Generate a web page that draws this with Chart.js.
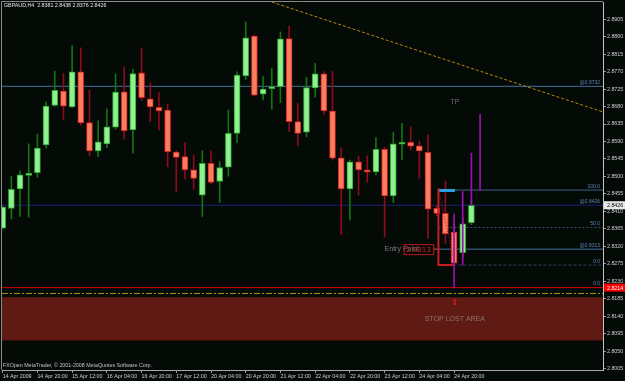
<!DOCTYPE html>
<html lang="en">
<head>
<meta charset="UTF-8">
<title>GBPAUD,H4</title>
<script src="https://cdn.jsdelivr.net/npm/chart.js"></script>
<style>
  html, body { margin: 0; padding: 0; background: #040b07; overflow: hidden; }
  canvas { display: block; }
</style>
</head>
<body>
<canvas id="chart" width="625" height="381"></canvas>
<script>
// H4 candles, oldest first (bar index = position in the arrays)
const opens  = [2.8367, 2.8418, 2.8468, 2.8503, 2.8510, 2.8581, 2.8683, 2.8720, 2.8679, 2.8769,
                2.8639, 2.8566, 2.8584, 2.8627, 2.8718, 2.8620, 2.8767, 2.8700, 2.8678, 2.8671,
                2.8563, 2.8551, 2.8517, 2.8452, 2.8534, 2.8487, 2.8524, 2.8611, 2.8759, 2.8861,
                2.8712, 2.8726, 2.8731, 2.8855, 2.8641, 2.8614, 2.8728, 2.8764, 2.8668, 2.8548,
                2.8468, 2.8538, 2.8517, 2.8512, 2.8570, 2.8450, 2.8583, 2.8588, 2.8579, 2.8562,
                2.8418, 2.8405, 2.8357, 2.8304, 2.8381];
const highs  = [2.8424, 2.8501, 2.8514, 2.8584, 2.8609, 2.8692, 2.8771, 2.8765, 2.8836, 2.8831,
                2.8722, 2.8643, 2.8674, 2.8764, 2.8782, 2.8776, 2.8830, 2.8741, 2.8717, 2.8686,
                2.8566, 2.8587, 2.8555, 2.8566, 2.8566, 2.8538, 2.8671, 2.8769, 2.8898, 2.8864,
                2.8757, 2.8778, 2.8872, 2.8887, 2.8688, 2.8755, 2.8791, 2.8770, 2.8771, 2.8574,
                2.8542, 2.8553, 2.8553, 2.8600, 2.8575, 2.8614, 2.8637, 2.8627, 2.8591, 2.8607,
                2.8424, 2.8488, 2.8378, 2.8395, 2.8438];
const lows   = [2.8365, 2.8391, 2.8397, 2.8395, 2.8498, 2.8573, 2.8681, 2.8647, 2.8678, 2.8632,
                2.8553, 2.8551, 2.8574, 2.8622, 2.8596, 2.8560, 2.8697, 2.8641, 2.8620, 2.8525,
                2.8461, 2.8493, 2.8467, 2.8397, 2.8481, 2.8433, 2.8501, 2.8587, 2.8750, 2.8707,
                2.8697, 2.8673, 2.8690, 2.8615, 2.8579, 2.8602, 2.8704, 2.8660, 2.8542, 2.8350,
                2.8388, 2.8452, 2.8485, 2.8504, 2.8345, 2.8433, 2.8544, 2.8568, 2.8495, 2.8341,
                2.8398, 2.8328, 2.8270, 2.8290, 2.8376];
const closes = [2.8421, 2.8467, 2.8504, 2.8508, 2.8573, 2.8681, 2.8722, 2.8681, 2.8769, 2.8638,
                2.8566, 2.8589, 2.8628, 2.8717, 2.8617, 2.8765, 2.8703, 2.8679, 2.8669, 2.8564,
                2.8549, 2.8517, 2.8495, 2.8534, 2.8485, 2.8523, 2.8611, 2.8761, 2.8857, 2.8709,
                2.8725, 2.8731, 2.8854, 2.8641, 2.8611, 2.8729, 2.8764, 2.8669, 2.8547, 2.8468,
                2.8538, 2.8517, 2.8511, 2.8570, 2.8450, 2.8584, 2.8587, 2.8578, 2.8566, 2.8416,
                2.8405, 2.8352, 2.8277, 2.8378, 2.8426];

// purple indicator sticks on the last bars
const stickBars  = [52, 53, 54, 55];
const stickLows  = [2.8213, 2.8272, 2.8425, 2.8465];
const stickHighs = [2.8403, 2.8461, 2.8560, 2.8660];

// horizontal levels with their right-hand captions
const levelNames  = ['@2.8732', '@2.8426', '100.0', '50.0', '@2.8313', '0.0', '0.0'];
const levelValues = [2.8732, 2.8426, 2.8465, 2.8369, 2.8313, 2.8272, 2.8214];
const levelFrom   = [-0.08, -0.08, 50.2, 50.2, 49.6, 50.2, -0.08];

const stopLine = 2.8199;
const stopAreaTop = 2.8189;
const stopAreaBottom = 2.8078;

// dashed trend line (bar, price)
const trendBars   = [31.0, 69.16];
const trendPrices = [2.8949, 2.8666];

// fib box drawn on bars 50..52
const boxBars   = [50.2, 50.2, 52.1];
const boxPrices = [2.8470, 2.8272, 2.8272];
const fibTop = 2.8464;

const xTickBars   = [0, 4, 8, 12, 16, 20, 24, 28, 32, 36, 40, 44, 48, 52];
const xTickLabels = ['14 Apr 2009', '14 Apr 20:00', '15 Apr 12:00', '16 Apr 04:00', '16 Apr 20:00',
                     '17 Apr 12:00', '20 Apr 04:00', '20 Apr 20:00', '21 Apr 12:00', '22 Apr 04:00',
                     '22 Apr 20:00', '23 Apr 12:00', '24 Apr 04:00', '24 Apr 20:00'];
const yTickLabels = ['2.8005', '2.8050', '2.8095', '2.8140', '2.8185', '2.8230', '2.8275', '2.8320',
                     '2.8365', '2.8410', '2.8455', '2.8500', '2.8545', '2.8590', '2.8635', '2.8680',
                     '2.8725', '2.8770', '2.8815', '2.8860', '2.8905'];

const X_MIN = -0.08, X_MAX = 69.16;
const Y_MIN = 2.8002, Y_MAX = 2.8949;
const FONT = 'Liberation Sans';

const bull = opens.map((o, i) => closes[i] >= o);
const bodyFill = bull.map(b => b ? '#8ff08f' : '#fb7d5e');
const bodyEdge = bull.map(b => b ? '#2fa52f' : '#d42020');
const wickColor = bull.map(b => b ? '#137313' : '#8e0a1c');

const levelColors = ['#44709f', '#1b1f7a', '#3f6088', '#3b5878', '#44709f', '#2f4463', '#d00000'];
const levelDash = [[], [], [], [2, 2], [], [3, 2], []];

function line(points, color, width, dash, order) {
  return {
    type: 'line', data: points, borderColor: color, borderWidth: width,
    borderDash: dash || [], pointRadius: 0, fill: false, order: order === undefined ? 5 : order
  };
}

const datasets = [
  {
    type: 'bar', label: 'sticks', grouped: false, order: 0,
    data: stickBars.map((b, i) => ({ x: b, y: [stickLows[i], stickHighs[i]] })),
    backgroundColor: '#9a10b0', barThickness: 1
  },
  {
    type: 'bar', label: 'bodies', grouped: false, order: 2,
    data: opens.map((o, i) => ({ x: i, y: [o, closes[i]] })),
    backgroundColor: bodyFill, borderColor: bodyEdge, borderWidth: 1,
    borderSkipped: false, barThickness: 6, minBarLength: 2
  },
  {
    type: 'bar', label: 'wicks', grouped: false, order: 3,
    data: highs.map((h, i) => ({ x: i, y: [lows[i], h] })),
    backgroundColor: wickColor, barThickness: 1
  },
  line(boxBars.map((b, i) => ({ x: b, y: boxPrices[i] })), '#c41e1e', 2, [], 1),
  line([{ x: boxBars[0], y: fibTop }, { x: boxBars[2], y: fibTop }], '#2aa2e4', 3, [], 1),
  line([{ x: 50.3, y: 2.8458 }, { x: 52.0, y: 2.8282 }], '#9a3030', 1, [1, 2], 1),
  line([{ x: 49.6, y: levelValues[4] }, { x: boxBars[0], y: levelValues[4] }], '#c41e1e', 1, [], 1),
  line(trendBars.map((b, i) => ({ x: b, y: trendPrices[i] })), '#b88a0c', 1, [3, 2]),
  line([{ x: X_MIN, y: stopLine }, { x: X_MAX, y: stopLine }], '#9c9a14', 1, [6, 2, 2, 2]),
  Object.assign(line([{ x: X_MIN, y: stopAreaTop }, { x: X_MAX, y: stopAreaTop }], 'rgba(0,0,0,0)', 0), { order: 9 }),
  Object.assign(line([{ x: X_MIN, y: stopAreaBottom }, { x: X_MAX, y: stopAreaBottom }], '#3a0c08', 1),
    { fill: '-1', backgroundColor: '#5f1a13', order: 9 })
];
levelValues.forEach((v, i) => {
  datasets.push(line([{ x: levelFrom[i], y: v }, { x: X_MAX, y: v }], levelColors[i], 1, levelDash[i], 6));
});

const overlay = {
  id: 'overlay',
  afterDraw(chart) {
    const { ctx, chartArea: a, scales: { x, y } } = chart;
    ctx.save();
    // frame on the left and top
    ctx.strokeStyle = '#8a8a8a';
    ctx.lineWidth = 1;
    ctx.beginPath();
    ctx.moveTo(a.left - 0.5, a.bottom);
    ctx.lineTo(a.left - 0.5, a.top - 0.5);
    ctx.lineTo(a.right, a.top - 0.5);
    ctx.stroke();

    ctx.textBaseline = 'middle';
    ctx.textAlign = 'left';
    ctx.font = '5.3px ' + FONT;
    ctx.fillStyle = '#e6e6e6';
    ctx.fillText('GBPAUD,H4  ' + [opens[54], highs[54], lows[54], closes[54]].map(v => v.toFixed(4)).join(' '), a.left + 2, a.top + 4);
    ctx.fillStyle = '#c4c4c4';
    ctx.fillText('FXOpen MetaTrader, \u00a9 2001-2008 MetaQuotes Software Corp.', a.left + 1, a.bottom - 4);

    // level captions
    ctx.font = '5px ' + FONT;
    ctx.fillStyle = '#5a84b4';
    ctx.textAlign = 'right';
    ctx.textBaseline = 'bottom';
    levelNames.forEach((t, i) => ctx.fillText(t, a.right - 3, y.getPixelForValue(levelValues[i]) - 1));

    // chart notes
    ctx.textBaseline = 'middle';
    ctx.textAlign = 'center';
    ctx.font = '7px ' + FONT;
    ctx.fillStyle = '#6e6e6e';
    ctx.fillText('TP', x.getPixelForValue(52.1), y.getPixelForValue(2.8691));
    ctx.fillStyle = '#8e746c';
    ctx.fillText('STOP LOST AREA', x.getPixelForValue(52.1), y.getPixelForValue(2.8133));
    ctx.fillStyle = '#ff2020';
    ctx.font = 'bold 8px DejaVu Sans';
    ctx.fillText('\u21e7', x.getPixelForValue(52.1), y.getPixelForValue(2.8175));

    const ey = y.getPixelForValue(levelValues[4]);
    ctx.textAlign = 'left';
    ctx.font = '7px ' + FONT;
    ctx.fillStyle = '#7c7c7c';
    ctx.fillText('Entry Point', x.getPixelForValue(44.0), ey);
    const bx0 = x.getPixelForValue(46.2), bx1 = x.getPixelForValue(49.6);
    ctx.strokeStyle = '#c01818';
    ctx.strokeRect(bx0 + 0.5, ey - 4.5, bx1 - bx0, 10);
    ctx.fillStyle = '#d02020';
    ctx.textAlign = 'center';
    ctx.font = '8px ' + FONT;
    ctx.fillText(levelNames[4].slice(1), (bx0 + bx1) / 2, ey + 0.5);

    // price tags on the axis
    ctx.font = '5.3px ' + FONT;
    ctx.textAlign = 'left';
    const tags = [[closes[54], '#e8e8e8', '#000000'], [levelValues[6], '#ff0000', '#ffffff']];
    tags.forEach(([v, bg, fg]) => {
      const py = y.getPixelForValue(v);
      ctx.fillStyle = bg;
      ctx.fillRect(a.right + 1, py - 4, 21, 8);
      ctx.fillStyle = fg;
      ctx.fillText(v.toFixed(4), a.right + 4, py + 0.5);
    });
    ctx.restore();
  }
};

new Chart(document.getElementById('chart'), {
  type: 'bar',
  data: { datasets },
  options: {
    responsive: false,
    animation: false,
    layout: { padding: { left: 2, top: 2, right: 0, bottom: 0 } },
    plugins: { legend: { display: false }, tooltip: { enabled: false } },
    scales: {
      x: {
        type: 'linear', position: 'bottom', min: X_MIN, max: X_MAX, offset: false,
        grid: { display: true, drawOnChartArea: false, drawTicks: true, tickLength: 3, color: '#9a9a9a', offset: false },
        border: { display: true, color: '#a8a8a8' },
        ticks: {
          color: '#cfcfcf', font: { size: 5.3, family: FONT }, align: 'start', padding: 0,
          autoSkip: false, maxRotation: 0,
          callback: v => xTickLabels[xTickBars.indexOf(v)]
        },
        afterBuildTicks: s => { s.ticks = xTickBars.map(v => ({ value: v })); },
        afterFit: s => { s.height = 11; s.paddingLeft = 0; s.paddingRight = 0; }
      },
      y: {
        type: 'linear', position: 'right', min: Y_MIN, max: Y_MAX,
        grid: { display: true, drawOnChartArea: false, drawTicks: true, tickLength: 3, color: '#9a9a9a' },
        border: { display: true, color: '#c4c4c4' },
        ticks: {
          color: '#cfcfcf', font: { size: 5.3, family: FONT }, padding: 1, autoSkip: false,
          callback: v => v.toFixed(4)
        },
        afterBuildTicks: s => { s.ticks = yTickLabels.map(t => ({ value: parseFloat(t) })); },
        afterFit: s => { s.width = 22; s.paddingTop = 0; s.paddingBottom = 0; }
      }
    }
  },
  plugins: [overlay]
});
</script>
</body>
</html>
